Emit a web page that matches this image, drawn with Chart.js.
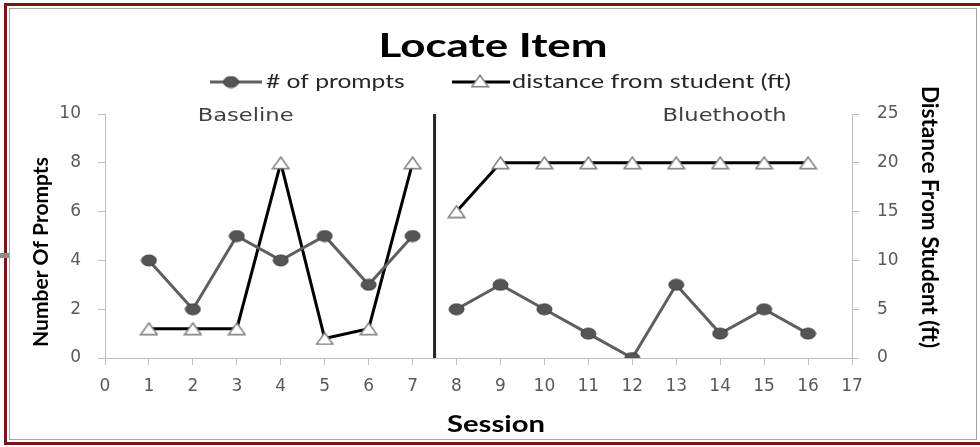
<html>
<head>
    <title>Locate Item</title>
    <script src="https://cdn.jsdelivr.net/npm/chart.js"></script>
    <style>
        body { margin: 0; background: #ffffff; }
        #outer { position: absolute; left: 4px; top: 3px; width: 990px; height: 436px; border: 3px solid #7b1414; }
        #inner { position: absolute; left: 9px; top: 8px; width: 966px; height: 430px; border: 1px solid #a6a6a6; }
        #nub { position: absolute; left: 0; top: 253px; width: 9px; height: 5px; background: #8c8c8c; }
        #chart { position: absolute; left: 0; top: 0; }
    </style>
</head>
<body>
    <div id="outer"></div>
    <div id="inner"></div>
    <div id="nub"></div>
    <canvas id="chart" width="980" height="447"></canvas>

    <script>
        // values
        const sessions = [1, 2, 3, 4, 5, 6, 7, 8, 9, 10, 11, 12, 13, 14, 15, 16];
        const prompts = [4, 2, 5, 4, 5, 3, 5, 2, 3, 2, 1, 0, 3, 1, 2, 1];
        const distance = [3, 3, 3, 20, 2, 3, 20, 15, 20, 20, 20, 20, 20, 20, 20, 20];
        const phaseChange = 7.5;
        const phaseNames = ['Baseline', 'Bluethooth'];
        const phaseLabelAt = [3.2, 14.1];
        const promptTicks = [0, 2, 4, 6, 8, 10];
        const distanceTicks = [0, 5, 10, 15, 20, 25];

        // the picture is stretched sideways by about this much
        const stretch = 1.33;

        // break the lines at the phase change
        function toPoints(values) {
            const pts = [];
            sessions.forEach((s, i) => {
                if (s > phaseChange && sessions[i - 1] < phaseChange) pts.push({ x: phaseChange, y: null });
                pts.push({ x: s, y: values[i] });
            });
            return pts;
        }

        function ellipseMarker() {
            const c = document.createElement('canvas');
            c.width = 17; c.height = 13;
            const g = c.getContext('2d');
            g.beginPath();
            g.ellipse(8.5, 6.5, 7.5, 5.5, 0, 0, Math.PI * 2);
            g.fillStyle = '#555555';
            g.fill();
            g.strokeStyle = '#3d3d3d';
            g.lineWidth = 1;
            g.stroke();
            return c;
        }

        function triangleMarker() {
            const c = document.createElement('canvas');
            c.width = 19; c.height = 14;
            const g = c.getContext('2d');
            g.beginPath();
            g.moveTo(9.5, 1.2);
            g.lineTo(17.8, 12.8);
            g.lineTo(1.2, 12.8);
            g.closePath();
            g.fillStyle = '#ffffff';
            g.fill();
            g.strokeStyle = '#7f7f7f';
            g.lineWidth = 1.5;
            g.stroke();
            return c;
        }

        const dot = ellipseMarker();
        const tri = triangleMarker();

        // text drawn wider than the font, like the stretched original
        function wideText(ctx, text, x, y, align) {
            ctx.save();
            ctx.translate(x, y);
            ctx.scale(stretch, 1);
            ctx.textAlign = align;
            ctx.fillText(text, 0, 0);
            ctx.restore();
        }

        function sideText(ctx, text, x, y, angle) {
            ctx.save();
            ctx.translate(x, y);
            ctx.rotate(angle);
            ctx.textAlign = 'center';
            ctx.fillText(text, 0, 0);
            ctx.restore();
        }

        const extras = {
            id: 'extras',
            afterDatasetsDraw(chart) {
                const ctx = chart.ctx;
                const area = chart.chartArea;
                const x = chart.scales.x;
                const cx = chart.width / 2;

                // phase change line
                const px = x.getPixelForValue(phaseChange);
                ctx.save();
                ctx.strokeStyle = '#262626';
                ctx.lineWidth = 3;
                ctx.beginPath();
                ctx.moveTo(px, area.top);
                ctx.lineTo(px, area.bottom);
                ctx.stroke();

                ctx.textBaseline = 'middle';

                // phase names
                ctx.fillStyle = '#404040';
                ctx.font = '17px "DejaVu Sans"';
                phaseNames.forEach((n, i) => {
                    wideText(ctx, n, x.getPixelForValue(phaseLabelAt[i]), area.top + 3, 'center');
                });

                // title
                ctx.fillStyle = '#000000';
                ctx.font = 'bold 33px Lato';
                wideText(ctx, 'Locate Item', cx + 3, 46, 'center');

                // axis titles
                ctx.font = 'bold 22px Lato';
                wideText(ctx, 'Session', 496, 425, 'center');
                ctx.font = 'bold 21px Lato';
                sideText(ctx, 'Number Of Prompts', 41, 252, -Math.PI / 2);
                ctx.font = 'bold 22.5px Lato';
                sideText(ctx, 'Distance From Student (ft)', 929, 217, Math.PI / 2);

                // legend
                const ly = 82;
                ctx.font = '18.5px Lato';

                ctx.strokeStyle = '#5f5f5f';
                ctx.lineWidth = 3;
                ctx.beginPath();
                ctx.moveTo(210, ly); ctx.lineTo(262, ly);
                ctx.stroke();
                ctx.drawImage(dot, 231 - 8.5, ly - 6.5);
                ctx.fillStyle = '#262626';
                wideText(ctx, '# of prompts', 266, ly, 'left');

                ctx.strokeStyle = '#000000';
                ctx.beginPath();
                ctx.moveTo(452, ly); ctx.lineTo(510, ly);
                ctx.stroke();
                ctx.drawImage(tri, 480 - 9.5, ly - 8);
                ctx.font = '19px Lato';
                wideText(ctx, 'distance from student (ft)', 512, ly, 'left');
                ctx.restore();
            }
        };

        const tickFont = { family: 'DejaVu Sans', size: 17 };

        new Chart(document.getElementById('chart'), {
            type: 'line',
            data: {
                datasets: [{
                    label: '# of prompts',
                    data: toPoints(prompts),
                    yAxisID: 'y',
                    borderColor: '#5f5f5f',
                    borderWidth: 3,
                    pointStyle: dot,
                    spanGaps: false
                }, {
                    label: 'distance from student (ft)',
                    data: toPoints(distance),
                    yAxisID: 'y2',
                    borderColor: '#000000',
                    borderWidth: 3,
                    pointStyle: tri,
                    spanGaps: false
                }]
            },
            options: {
                responsive: false,
                animation: false,
                devicePixelRatio: 1,
                layout: { padding: { top: 114, left: 28, right: 32, bottom: 10 } },
                plugins: { legend: { display: false }, tooltip: { enabled: false } },
                scales: {
                    x: {
                        type: 'linear',
                        min: 0,
                        max: 17,
                        afterFit: s => { s.height = 79; },
                        ticks: { stepSize: 1, color: '#595959', font: tickFont, padding: 11 },
                        grid: { drawOnChartArea: false, color: '#bfbfbf', tickLength: 7 },
                        border: { color: '#bfbfbf' }
                    },
                    y: {
                        position: 'left',
                        min: 0,
                        max: 10,
                        afterFit: s => { s.width = 77; },
                        afterBuildTicks: s => { s.ticks = promptTicks.map(v => ({ value: v })); },
                        ticks: { color: '#595959', font: tickFont, padding: 17 },
                        grid: { drawOnChartArea: false, color: '#bfbfbf', tickLength: 7 },
                        border: { color: '#bfbfbf' }
                    },
                    y2: {
                        position: 'right',
                        min: 0,
                        max: 25,
                        afterFit: s => { s.width = 96; },
                        afterBuildTicks: s => { s.ticks = distanceTicks.map(v => ({ value: v })); },
                        ticks: { color: '#595959', font: tickFont, padding: 18 },
                        grid: { drawOnChartArea: false, color: '#bfbfbf', tickLength: 7 },
                        border: { color: '#bfbfbf' }
                    }
                }
            },
            plugins: [extras]
        });
    </script>
</body>
</html>
